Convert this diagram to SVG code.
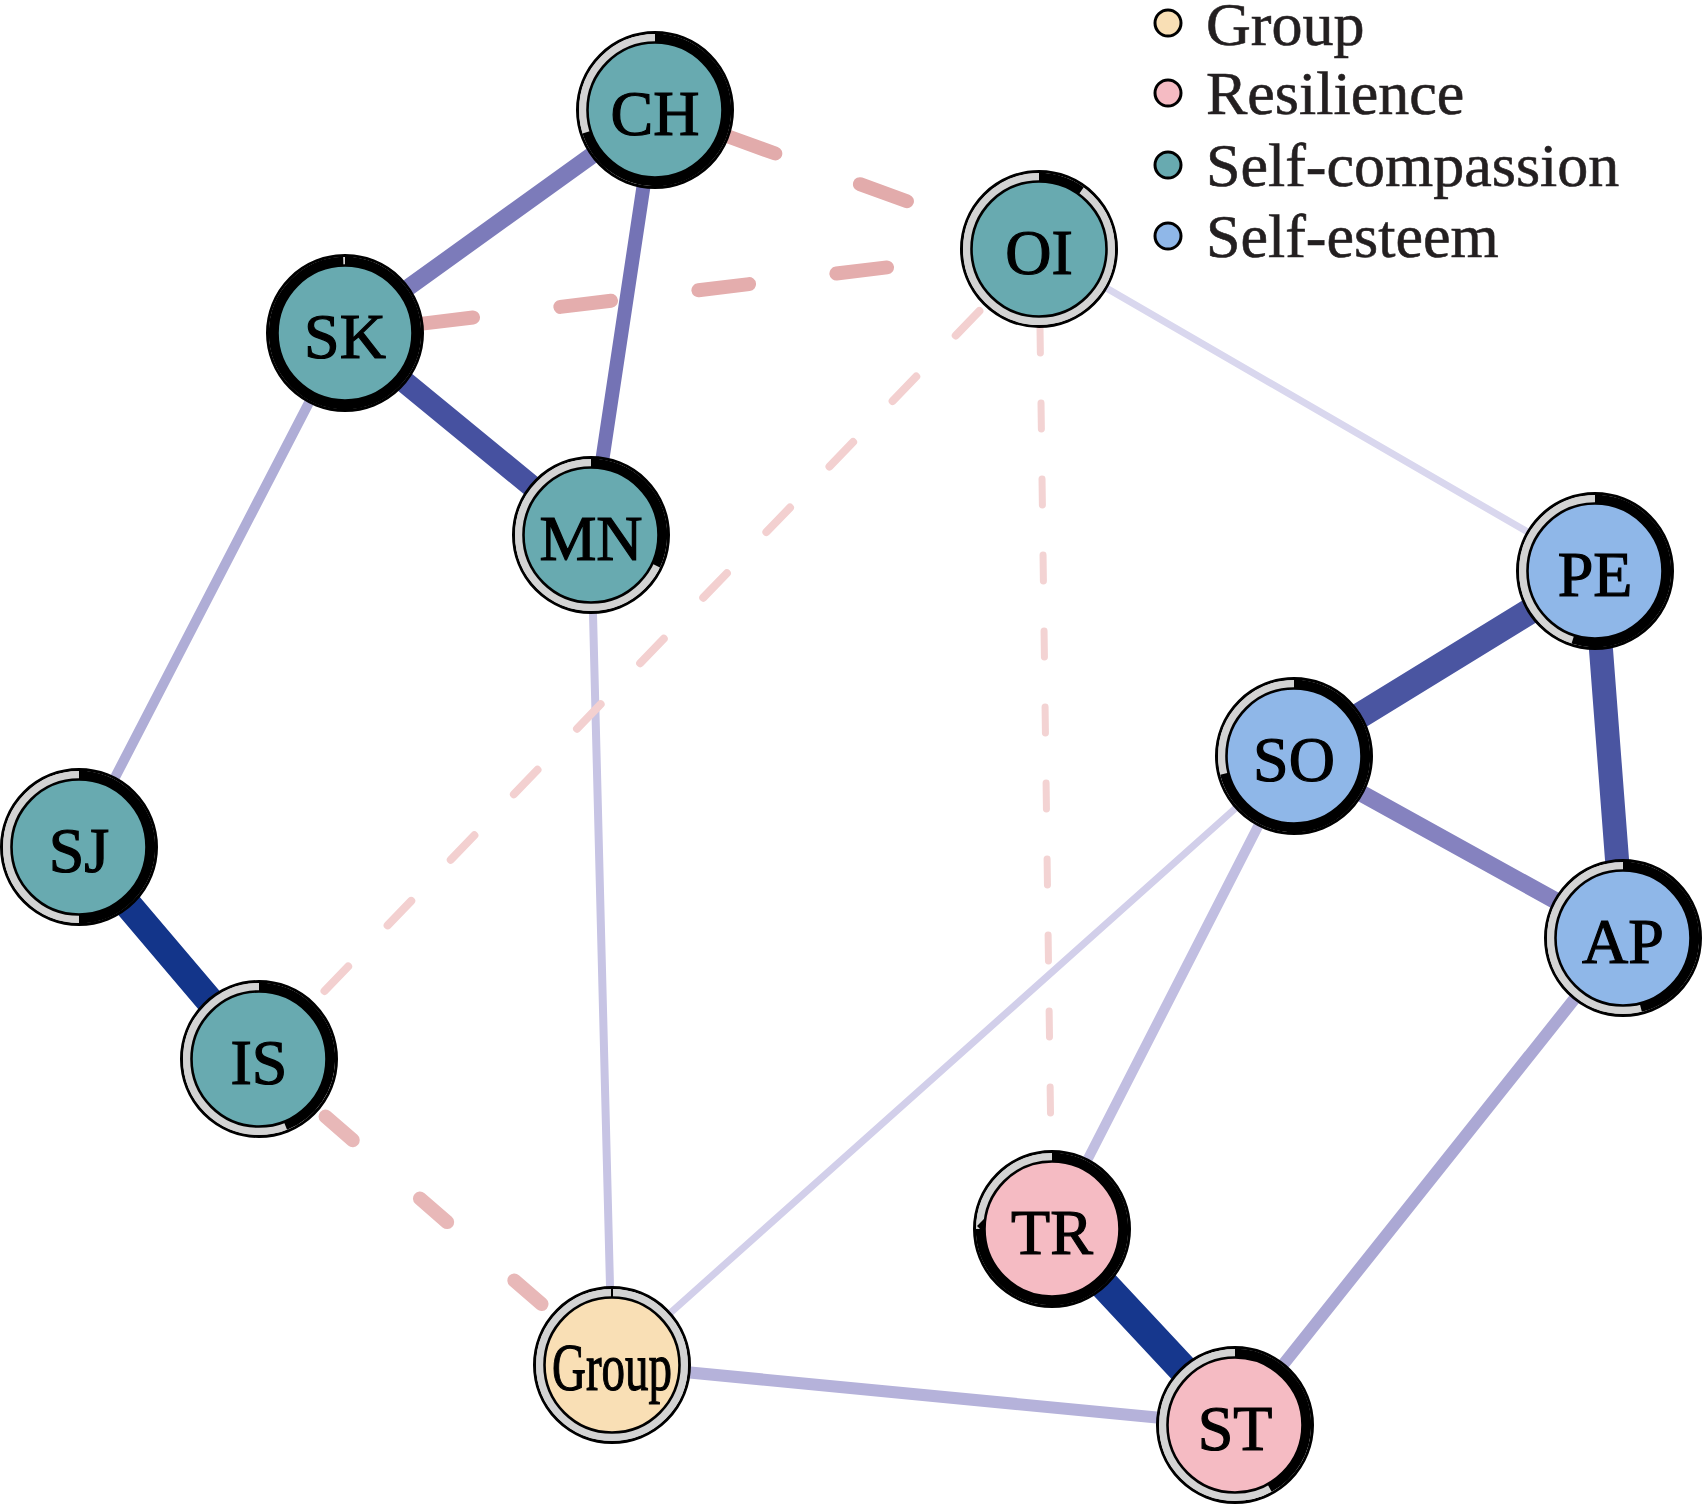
<svg xmlns="http://www.w3.org/2000/svg" width="1703" height="1507" viewBox="0 0 1703 1507">
<style>
.e{fill:none;stroke-linecap:round}
.d{fill:none;stroke-linecap:round}
.outer{fill:none;stroke:#000;stroke-width:3.2}
.rbg{fill:none;stroke:#D3D3D3;stroke-width:8}
.rk{fill:none;stroke:#000;stroke-width:8.4}
.inner{stroke:#000;stroke-width:2.6}
.sc{fill:#68AAB0}
.se{fill:#8FB7E8}
.re{fill:#F5BBC3}
.gr{fill:#F9DFB5}
.lbl{font-family:"Liberation Serif","Times New Roman",serif;font-size:64px;text-anchor:middle;fill:#000;stroke:#000;stroke-width:1.2}
.leg{font-family:"Liberation Serif","Times New Roman",serif;font-size:62px;fill:#231F20;stroke:#231F20;stroke-width:0.6}
.lc{stroke:#000;stroke-width:3}
</style>
<rect width="1703" height="1507" fill="#fff"/>
<g id="edges">
<line class="e" x1="1039" y1="249" x2="1595" y2="571" stroke="#D9D7EE" stroke-width="7"/>
<line class="e" x1="1294" y1="756" x2="612" y2="1365" stroke="#D2CFEA" stroke-width="7"/>
<line class="e" x1="591" y1="535" x2="612" y2="1365" stroke="#C7C4E4" stroke-width="8"/>
<line class="e" x1="1294" y1="756" x2="1052" y2="1229" stroke="#C1BEE1" stroke-width="10"/>
<line class="e" x1="345" y1="333" x2="79" y2="847" stroke="#AFADD6" stroke-width="10"/>
<line class="e" x1="1623" y1="938" x2="1235" y2="1425" stroke="#ABA8D4" stroke-width="12"/>
<line class="e" x1="612" y1="1365" x2="1235" y2="1425" stroke="#B5B2DA" stroke-width="12"/>
<line class="e" x1="655" y1="110" x2="591" y2="535" stroke="#7473B5" stroke-width="14"/>
<line class="e" x1="655" y1="110" x2="345" y2="333" stroke="#7C7BBA" stroke-width="17"/>
<line class="e" x1="1294" y1="756" x2="1623" y2="938" stroke="#8582BF" stroke-width="17"/>
<line class="e" x1="345" y1="333" x2="591" y2="535" stroke="#4651A0" stroke-width="22"/>
<line class="e" x1="1595" y1="571" x2="1623" y2="938" stroke="#4A55A1" stroke-width="24"/>
<line class="e" x1="1595" y1="571" x2="1294" y2="756" stroke="#4A55A1" stroke-width="26"/>
<line class="e" x1="79" y1="847" x2="259" y2="1059" stroke="#13358A" stroke-width="28"/>
<line class="e" x1="1052" y1="1229" x2="1235" y2="1425" stroke="#16378D" stroke-width="30"/>
<path class="d" d="M984.9,305.2 L313.1,1002.8" stroke="#F3D0D0" stroke-width="8" stroke-dasharray="34 57" stroke-dashoffset="-8"/>
<path class="d" d="M1040,327 L1051,1151" stroke="#F3D3D3" stroke-width="7" stroke-dasharray="26 50"/>
<path class="d" d="M318,1110 L553,1314" stroke="#E8B8B8" stroke-width="14" stroke-dasharray="36 89" stroke-dashoffset="-10"/>
<path class="d" d="M422.4,323.6 L961.6,258.4" stroke="#E4ADAD" stroke-width="14" stroke-dasharray="51 88"/>
<path class="d" d="M728.3,136.5 L965.7,222.5" stroke="#E2ABAB" stroke-width="14" stroke-dasharray="50 90"/>
</g>
<g id="node-CH">
<circle class="outer" cx="655" cy="110" r="77.4"/>
<circle class="rbg" cx="655" cy="110" r="72"/>
<circle class="rk" cx="655" cy="110" r="72" pathLength="100" stroke-dasharray="70 100" transform="rotate(-90 655 110)"/>
<circle class="inner sc" cx="655" cy="110" r="67.5"/>
<text class="lbl" x="655" y="135">CH</text>
</g>
<g id="node-OI">
<circle class="outer" cx="1039" cy="249" r="77.4"/>
<circle class="rbg" cx="1039" cy="249" r="72"/>
<circle class="rk" cx="1039" cy="249" r="72" pathLength="100" stroke-dasharray="10 100" transform="rotate(-90 1039 249)"/>
<circle class="inner sc" cx="1039" cy="249" r="67.5"/>
<text class="lbl" x="1039" y="274">OI</text>
</g>
<g id="node-SK">
<circle class="outer" cx="345" cy="333" r="77.4"/>
<circle class="rbg" cx="345" cy="333" r="72"/>
<circle class="rk" cx="345" cy="333" r="72" pathLength="100" stroke-dasharray="99.6 100" transform="rotate(-90 345 333)"/>
<circle class="inner sc" cx="345" cy="333" r="67.5"/>
<text class="lbl" x="345" y="358">SK</text>
</g>
<g id="node-MN">
<circle class="outer" cx="591" cy="535" r="77.4"/>
<circle class="rbg" cx="591" cy="535" r="72"/>
<circle class="rk" cx="591" cy="535" r="72" pathLength="100" stroke-dasharray="32 100" transform="rotate(-90 591 535)"/>
<circle class="inner sc" cx="591" cy="535" r="67.5"/>
<text class="lbl" x="591" y="560">MN</text>
</g>
<g id="node-PE">
<circle class="outer" cx="1595" cy="571" r="77.4"/>
<circle class="rbg" cx="1595" cy="571" r="72"/>
<circle class="rk" cx="1595" cy="571" r="72" pathLength="100" stroke-dasharray="55 100" transform="rotate(-90 1595 571)"/>
<circle class="inner se" cx="1595" cy="571" r="67.5"/>
<text class="lbl" x="1595" y="596">PE</text>
</g>
<g id="node-SO">
<circle class="outer" cx="1294" cy="756" r="77.4"/>
<circle class="rbg" cx="1294" cy="756" r="72"/>
<circle class="rk" cx="1294" cy="756" r="72" pathLength="100" stroke-dasharray="71 100" transform="rotate(-90 1294 756)"/>
<circle class="inner se" cx="1294" cy="756" r="67.5"/>
<text class="lbl" x="1294" y="781">SO</text>
</g>
<g id="node-SJ">
<circle class="outer" cx="79" cy="847" r="77.4"/>
<circle class="rbg" cx="79" cy="847" r="72"/>
<circle class="rk" cx="79" cy="847" r="72" pathLength="100" stroke-dasharray="50 100" transform="rotate(-90 79 847)"/>
<circle class="inner sc" cx="79" cy="847" r="67.5"/>
<text class="lbl" x="79" y="872">SJ</text>
</g>
<g id="node-AP">
<circle class="outer" cx="1623" cy="938" r="77.4"/>
<circle class="rbg" cx="1623" cy="938" r="72"/>
<circle class="rk" cx="1623" cy="938" r="72" pathLength="100" stroke-dasharray="46 100" transform="rotate(-90 1623 938)"/>
<circle class="inner se" cx="1623" cy="938" r="67.5"/>
<text class="lbl" x="1623" y="963">AP</text>
</g>
<g id="node-IS">
<circle class="outer" cx="259" cy="1059" r="77.4"/>
<circle class="rbg" cx="259" cy="1059" r="72"/>
<circle class="rk" cx="259" cy="1059" r="72" pathLength="100" stroke-dasharray="44 100" transform="rotate(-90 259 1059)"/>
<circle class="inner sc" cx="259" cy="1059" r="67.5"/>
<text class="lbl" x="259" y="1084">IS</text>
</g>
<g id="node-TR">
<circle class="outer" cx="1052" cy="1229" r="77.4"/>
<circle class="rbg" cx="1052" cy="1229" r="72"/>
<circle class="rk" cx="1052" cy="1229" r="72" pathLength="100" stroke-dasharray="75 100" transform="rotate(-90 1052 1229)"/>
<circle class="inner re" cx="1052" cy="1229" r="67.5"/>
<text class="lbl" x="1052" y="1254">TR</text>
</g>
<g id="node-Group">
<circle class="outer" cx="612" cy="1365" r="77.4"/>
<circle class="rbg" cx="612" cy="1365" r="72"/>
<line x1="612" y1="1288" x2="612" y2="1298" stroke="#000" stroke-width="2"/>
<circle class="inner gr" cx="612" cy="1365" r="67.5"/>
<text class="lbl" x="612" y="1390" textLength="120" lengthAdjust="spacingAndGlyphs" style="font-size:68px">Group</text>
</g>
<g id="node-ST">
<circle class="outer" cx="1235" cy="1425" r="77.4"/>
<circle class="rbg" cx="1235" cy="1425" r="72"/>
<circle class="rk" cx="1235" cy="1425" r="72" pathLength="100" stroke-dasharray="42 100" transform="rotate(-90 1235 1425)"/>
<circle class="inner re" cx="1235" cy="1425" r="67.5"/>
<text class="lbl" x="1235" y="1450">ST</text>
</g>
<g id="legend">
<circle class="lc gr" cx="1168" cy="23" r="13"/>
<text class="leg" x="1206" y="45">Group</text>
<circle class="lc re" cx="1168" cy="93" r="13"/>
<text class="leg" x="1206" y="114">Resilience</text>
<circle class="lc sc" cx="1168" cy="165" r="13"/>
<text class="leg" x="1206" y="186">Self-compassion</text>
<circle class="lc se" cx="1168" cy="236" r="13"/>
<text class="leg" x="1206" y="257">Self-esteem</text>
</g>
</svg>
